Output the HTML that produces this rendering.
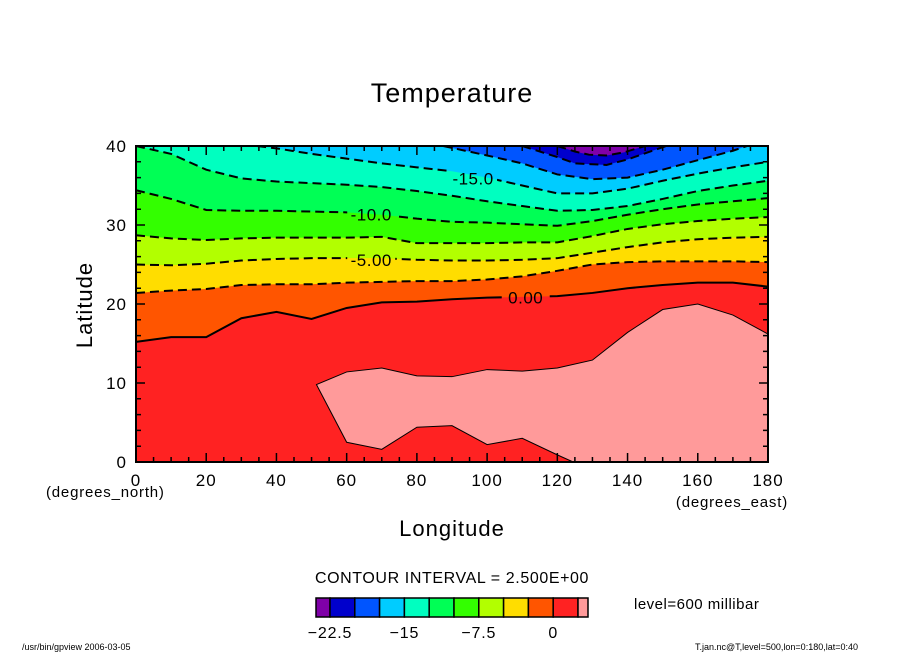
<!DOCTYPE html>
<html><head><meta charset="utf-8"><style>
html,body{margin:0;padding:0;background:#fff}
svg{display:block;font-family:"Liberation Sans",sans-serif}
</style></head><body>
<svg id="chart" width="904" height="654" viewBox="0 0 904 654">
<text x="452" y="102" text-anchor="middle" font-size="27" letter-spacing="1">Temperature</text>
<g id="plot"></g>
<g id="axes"></g>
<text x="92" y="305" text-anchor="middle" font-size="22" letter-spacing="1" transform="rotate(-90 92 305)">Latitude</text>
<text x="452" y="536" text-anchor="middle" font-size="22" letter-spacing="1">Longitude</text>
<text x="46" y="497" font-size="15" letter-spacing="0.8">(degrees_north)</text>
<text x="788" y="507" text-anchor="end" font-size="15" letter-spacing="0.8">(degrees_east)</text>
<text x="452" y="583" text-anchor="middle" font-size="16" letter-spacing="0.6">CONTOUR INTERVAL = 2.500E+00</text>
<g id="cbar"></g>
<text x="634" y="609" font-size="15" letter-spacing="0.5">level=600 millibar</text>
<text x="22" y="650" font-size="9">/usr/bin/gpview   2006-03-05</text>
<text x="858" y="650" text-anchor="end" font-size="9">T.jan.nc@T,level=500,lon=0:180,lat=0:40</text>
</svg>
<script>
const lonsFull=[0,10,20,30,40,50,60,70,80,90,100,110,120,130,140,150,160,170,180];
const latsC0=[15.2,15.8,15.8,18.2,19.0,18.1,19.5,20.2,20.3,20.6,20.8,20.9,21.0,21.4,22.0,22.4,22.7,22.7,22.2];
const latsCm25=[21.4,21.7,21.9,22.4,22.5,22.5,22.7,22.8,22.9,22.9,23.1,23.5,24.2,25.0,25.3,25.4,25.4,25.4,25.3];
const latsCm5=[25.0,24.9,25.1,25.5,25.7,25.8,25.8,25.8,25.6,25.5,25.5,25.6,25.8,26.5,27.2,27.8,28.2,28.4,28.5];
const latsCm75=[28.7,28.3,28.1,28.3,28.4,28.4,28.4,28.5,27.7,27.7,27.7,27.8,27.8,28.6,29.5,30.1,30.5,30.8,31.0];
const latsCm10=[34.4,33.3,31.9,31.8,31.8,31.7,31.6,31.3,30.8,30.4,30.3,30.1,29.9,30.5,31.3,32.0,32.6,33.0,33.4];
const latsCm125=[40.0,39.0,37.0,35.9,35.5,35.3,35.1,34.8,34.3,33.7,33.0,32.4,31.8,31.9,32.4,33.3,34.3,35.0,35.6];
const lonsCm15=[34.5,40,50,60,70,80,90,100,110,120,130,140,150,160,170,180];
const latsCm15=[40,39.7,39.0,38.4,37.8,37.3,36.8,36.0,35.0,34.0,34.0,34.6,35.6,36.5,37.3,38.0];
const lonsCm175=[87.5,100,110,120,130,140,150,160,170,174];
const latsCm175=[40,38.8,37.8,36.4,35.8,36.0,37.0,38.2,39.4,40];
const lonsCm20=[110,120,125,134,140,151];
const latsCm20=[40,38.6,37.8,37.6,38.3,40];
const lonsCm225=[120,125,129,134,139,145];
const latsCm225=[40,39.3,38.9,38.8,39.2,40];
const pinkUpperLons=[51.4,60,70,80,90,100,110,120,130,140,150,160,170,180];
const pinkUpperLats=[9.8,11.4,11.9,10.9,10.8,11.7,11.5,11.9,12.9,16.4,19.3,20.0,18.6,16.2];
const pinkLowerLons=[51.4,60,70,80,90,100,110,120,124.5];
const pinkLowerLats=[9.8,2.5,1.6,4.4,4.6,2.2,3.0,0.9,0];
const levels=[0,-2.5,-5,-7.5,-10,-12.5,-15,-17.5,-20,-22.5];
const cbarLevels=[-22.5,-20,-17.5,-15,-12.5,-10,-7.5,-5,-2.5,0,2.5];
const cbarTicks=[-22.5,-15,-7.5,0];
const xTicks=[0,20,40,60,80,100,120,140,160,180];
const yTicks=[0,10,20,30,40];

const NS='http://www.w3.org/2000/svg';
const X0=136,X1=768,Y0=462,Y1=146;
const sx=l=>X0+(l-0)/180*(X1-X0);
const sy=a=>Y0-(a-0)/40*(Y0-Y1);
const colors=['#7f00a8','#0000cc','#0055ff','#00ccff','#00ffc0','#00ff55','#33ff00','#b2ff00','#ffdd00','#ff5500','#ff2222','#ff9a9a'];
function mk(tag,attrs,parent){const e=document.createElementNS(NS,tag);for(const k in attrs)e.setAttribute(k,attrs[k]);parent.appendChild(e);return e;}
const plot=document.getElementById('plot');
const contours=[[lonsFull,latsC0],[lonsFull,latsCm25],[lonsFull,latsCm5],[lonsFull,latsCm75],[lonsFull,latsCm10],[lonsFull,latsCm125],[lonsCm15,latsCm15],[lonsCm175,latsCm175],[lonsCm20,latsCm20],[lonsCm225,latsCm225]];
const base=mk('rect',{x:X0,y:Y1,width:X1-X0,height:Y0-Y1,fill:colors[10]},plot);


function colorAbove(lev){return colors[Math.round((lev+22.5)/2.5)];}
contours.forEach((c,i)=>{
  const lons=c[0],lats=c[1];
  let pts=lons.map((l,j)=>sx(l)+','+sy(lats[j]));
  pts.push(sx(lons[lons.length-1])+','+sy(40));
  pts.push(sx(lons[0])+','+sy(40));
  const p=mk('polygon',{points:pts.join(' '),fill:colorAbove(levels[i])},plot);
  
  
});
{
  let pts=pinkUpperLons.map((l,j)=>sx(l)+','+sy(pinkUpperLats[j]));
  pts.push(sx(180)+','+sy(0));
  for(let j=pinkLowerLons.length-1;j>=0;j--)pts.push(sx(pinkLowerLons[j])+','+sy(pinkLowerLats[j]));
  const p=mk('polygon',{points:pts.join(' '),fill:colors[11],stroke:'#000','stroke-width':1},plot);
  
  
}
// label positions (used to mask contour lines)
const labelText=['0.00','-5.00','-10.0','-15.0'];
const labelLevelIdx=[0,2,4,6];
const labelLon=[111,67,67,96];
const labelLat=[20.8,25.6,31.3,35.9];
const defs=mk('defs',{},plot);
contours.forEach((c,i)=>{
  const lons=c[0],lats=c[1];
  const m=mk('mask',{id:'m'+i,maskUnits:'userSpaceOnUse',x:0,y:0,width:904,height:654},defs);
  mk('rect',{x:0,y:0,width:904,height:654,fill:'#fff'},m);
  labelLevelIdx.forEach((li,k)=>{if(li===i)mk('rect',{x:sx(labelLon[k])-24,y:sy(labelLat[k])-10,width:48,height:20,fill:'#000'},m);});
  const attrs={points:lons.map((l,j)=>sx(l)+','+sy(lats[j])).join(' '),fill:'none',stroke:'#000','stroke-width':2,mask:'url(#m'+i+')'};
  if(levels[i]<0)attrs['stroke-dasharray']='9,5';
  const pl=mk('polyline',attrs,plot);
  
  
});
labelText.forEach((t,i)=>{
  const tx=mk('text',{x:sx(labelLon[i]),y:sy(labelLat[i])+6,'text-anchor':'middle','font-size':17,'letter-spacing':0.5},plot);
  tx.textContent=t;
  
  
});
const axes=document.getElementById('axes');
const fr=mk('rect',{x:X0,y:Y1,width:X1-X0,height:Y0-Y1,fill:'none',stroke:'#000','stroke-width':2},axes);


let d='';
for(let l=0;l<=180;l+=5){const major=l%20===0;const len=major?9:5;const x=sx(l);d+=`M${x},${Y0}v${-len}M${x},${Y1}v${len}`;}
for(let a=0;a<=40;a+=2){const major=a%10===0;const len=major?9:5;const y=sy(a);d+=`M${X0},${y}h${len}M${X1},${y}h${-len}`;}
const tk=mk('path',{d:d,stroke:'#000','stroke-width':1.5,fill:'none'},axes);


xTicks.forEach(v=>{const t=mk('text',{x:sx(v),y:Y0+24,'text-anchor':'middle','font-size':17,'letter-spacing':1},axes);t.textContent=v;
  
  });
yTicks.forEach(v=>{const t=mk('text',{x:X0-9,y:sy(v)+6,'text-anchor':'end','font-size':17,'letter-spacing':1},axes);t.textContent=v;
  
  });
const cb=document.getElementById('cbar');
const CB0=330,CBW=24.8,CBY=598,CBH=19;
const cx=v=>CB0+(v+22.5)/2.5*CBW;
for(let i=0;i<colors.length;i++){
  const x0=i===0?316:cx(cbarLevels[i-1]);
  const x1=i===colors.length-1?588:cx(cbarLevels[i]);
  const r=mk('rect',{x:x0,y:CBY,width:x1-x0,height:CBH,fill:colors[i],stroke:'#000','stroke-width':1.5},cb);
  
  
}
cbarTicks.forEach(v=>{const t=mk('text',{x:cx(v),y:638,'text-anchor':'middle','font-size':16,'letter-spacing':0.8},cb);t.textContent=(v<0?'\u2212'+(-v):v);
  
  });
</script>
</body></html>
